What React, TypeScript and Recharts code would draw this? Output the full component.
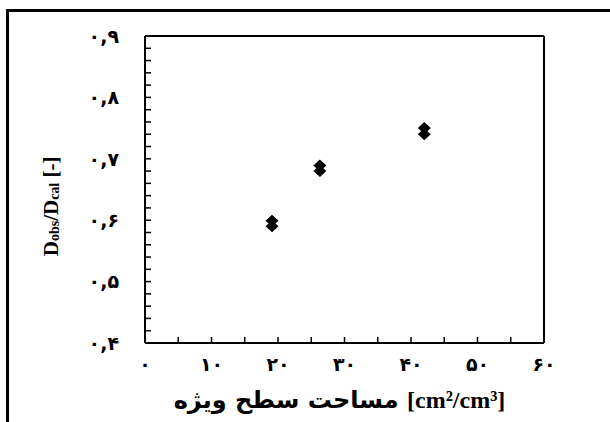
import React from "react";
import { ScatterChart, Scatter, XAxis, YAxis, Label } from "recharts";

// specific surface area [cm2/cm3]
const surfaceArea = [19.1, 26.3, 42.0];
// Dobs/Dcal, two measurements per sample
const ratioUpper = [0.599, 0.689, 0.75];
const ratioLower = [0.59, 0.68, 0.74];

const xMajor = [0, 10, 20, 30, 40, 50, 60];
const xLabels = ["۰", "۱۰", "۲۰", "۳۰", "۴۰", "۵۰", "۶۰"];
const yMajor = [0.4, 0.5, 0.6, 0.7, 0.8, 0.9];
const yLabels = ["۰,۴", "۰,۵", "۰,۶", "۰,۷", "۰,۸", "۰,۹"];

// minor ticks every 5 on x, every 0.02 on y
const xTicks = Array.from({ length: 13 }, (_, i) => i * 5);
const yTicks = Array.from({ length: 26 }, (_, i) => Math.round((0.4 + i * 0.02) * 100) / 100);

const upperPoints = surfaceArea.map((x, i) => ({ x, y: ratioUpper[i] }));
const lowerPoints = surfaceArea.map((x, i) => ({ x, y: ratioLower[i] }));

const xFormat = (v: number) => {
  const i = xMajor.indexOf(v);
  return i >= 0 ? xLabels[i] : "";
};
const yFormat = (v: number) => {
  const i = yMajor.findIndex((m) => Math.abs(m - v) < 1e-6);
  return i >= 0 ? yLabels[i] : "";
};

const Diamond = (props: any) => {
  const { cx, cy } = props;
  return (
    <polygon
      points={`${cx},${cy - 6} ${cx + 6.5},${cy} ${cx},${cy + 6} ${cx - 6.5},${cy}`}
      fill="#000"
    />
  );
};

const YTitle = (props: any) => {
  const { viewBox } = props;
  const cx = viewBox.x + viewBox.width - 94;
  const cy = viewBox.y + viewBox.height * 0.555;
  return (
    <text
      x={cx}
      y={cy}
      transform={`rotate(-90, ${cx}, ${cy})`}
      textAnchor="middle"
      dominantBaseline="central"
      fontFamily="Liberation Serif"
      fontWeight="bold"
      fontSize={21}
      fill="#000"
    >
      D<tspan fontSize={14} dy={3}>obs</tspan>
      <tspan dy={-3}>/D</tspan>
      <tspan fontSize={14} dy={3}>cal</tspan>
      <tspan dy={-3}> [-]</tspan>
    </text>
  );
};

const XTitle = (props: any) => {
  const { viewBox } = props;
  const cx = viewBox.x + viewBox.width / 2 - 5;
  const cy = viewBox.y + 57;
  return (
    <text
      x={cx}
      y={cy}
      textAnchor="middle"
      dominantBaseline="central"
      fontWeight="bold"
      fontSize={24}
      fill="#000"
    >
      <tspan fontFamily="DejaVu Sans">مساحت سطح ویژه </tspan>
      <tspan fontFamily="Liberation Serif">[cm²/cm³]</tspan>
    </text>
  );
};

const axisLine = { stroke: "#000", strokeWidth: 2 };
const tickLine = { stroke: "#000", strokeWidth: 1.5 };
const tickFont = {
  fill: "#000",
  fontSize: 19,
  fontWeight: "bold",
  fontFamily: "DejaVu Sans",
};

export default function App() {
  return (
    <div
      style={{
        position: "absolute",
        left: 0,
        top: 0,
        width: 610,
        height: 422,
        overflow: "hidden",
        background: "#fff",
      }}
    >
      <div
        style={{
          position: "absolute",
          left: 6,
          top: 9,
          width: 700,
          height: 600,
          borderLeft: "3px solid #000",
          borderTop: "3px solid #000",
        }}
      />
      <ScatterChart
        width={610}
        height={422}
        margin={{ top: 35, right: 65, bottom: 49, left: 85 }}
        style={{ position: "absolute", left: 0, top: 0 }}
      >
        <XAxis
          type="number"
          dataKey="x"
          domain={[0, 60]}
          ticks={xTicks}
          interval={0}
          tickFormatter={xFormat}
          tickSize={-6}
          tickMargin={21}
          height={30}
          axisLine={axisLine}
          tickLine={tickLine}
          tick={tickFont}
        >
          <Label content={XTitle} />
        </XAxis>
        <XAxis
          xAxisId="top"
          orientation="top"
          type="number"
          domain={[0, 60]}
          ticks={xTicks}
          interval={0}
          tickFormatter={() => ""}
          tickSize={-6}
          height={1}
          axisLine={axisLine}
          tickLine={tickLine}
        />
        <YAxis
          type="number"
          dataKey="y"
          domain={[0.4, 0.9]}
          ticks={yTicks}
          interval={0}
          tickFormatter={yFormat}
          tickSize={-6}
          tickMargin={32}
          width={60}
          axisLine={axisLine}
          tickLine={tickLine}
          tick={tickFont}
        >
          <Label content={YTitle} />
        </YAxis>
        <YAxis
          yAxisId="right"
          orientation="right"
          type="number"
          domain={[0.4, 0.9]}
          ticks={yTicks}
          interval={0}
          tickFormatter={() => ""}
          tickSize={-6}
          width={1}
          axisLine={axisLine}
          tickLine={tickLine}
        />
        <Scatter data={upperPoints} shape={Diamond} isAnimationActive={false} />
        <Scatter data={lowerPoints} shape={Diamond} isAnimationActive={false} />
      </ScatterChart>
    </div>
  );
}
